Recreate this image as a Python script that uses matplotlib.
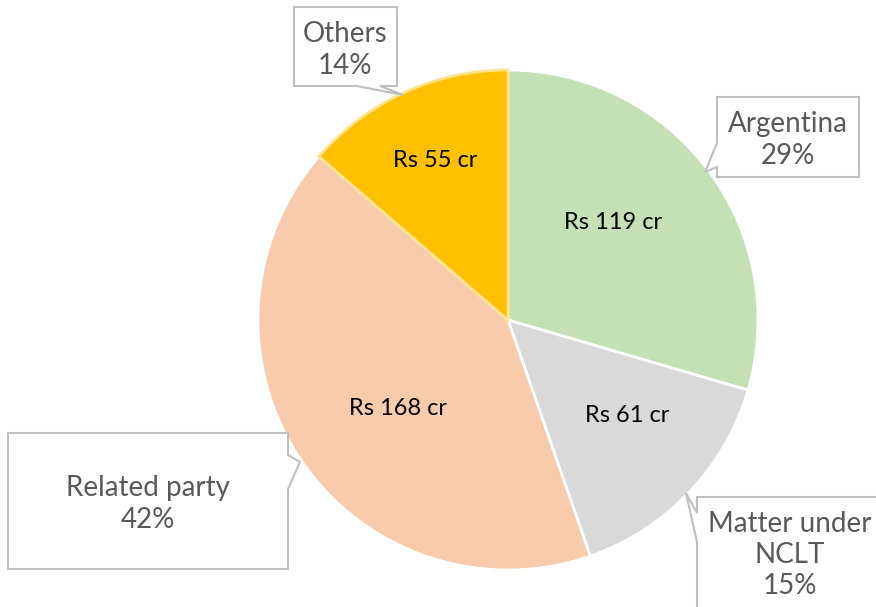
import numpy as np
import matplotlib.pyplot as plt
from matplotlib.patches import Polygon

# --- data ---
categories = ['Argentina', 'Matter under\nNCLT', 'Related party', 'Others']
values_cr = [119, 61, 168, 55]
pct_labels = [29, 15, 42, 14]  # as printed on the chart
colors = ['#C5E0B4', '#D9D9D9', '#F8CBAD', '#FFC000']
edge_colors = ['white', 'white', 'white', '#FFE38C']

W, H = 876, 607
plt.rcParams['font.family'] = ['Lato', 'DejaVu Sans']

fig = plt.figure(figsize=(W / 100, H / 100), dpi=100)
ax = fig.add_axes([0, 0, 1, 1])


def Y(y):
    # image pixel row -> axes y
    return H - y


cx, cy, R = 508, 320, 250
wedges, _ = ax.pie(values_cr, colors=colors, startangle=90, counterclock=False,
                   center=(cx, Y(cy)), radius=R, frame=True,
                   wedgeprops=dict(linewidth=2))
for w, ec in zip(wedges, edge_colors):
    w.set_edgecolor(ec)
ax.set_xlim(0, W)
ax.set_ylim(0, H)
ax.set_aspect('equal')
ax.axis('off')

# value labels inside the slices (radius fraction, angle nudge in degrees)
label_pos = [(0.575, 6), (0.61, 5), (0.565, 4.5), (0.70, 0)]
for w, v, (d, da) in zip(wedges, values_cr, label_pos):
    ang = np.deg2rad((w.theta1 + w.theta2) / 2 + da)
    ax.text(cx + d * R * np.cos(ang), Y(cy) + d * R * np.sin(ang), f'Rs {v} cr',
            ha='center', va='center', fontsize=17, color='black')


def callout(pts, text, tx, ty):
    poly = Polygon([(x, Y(y)) for x, y in pts], closed=True, facecolor='white',
                   edgecolor='#BFBFBF', linewidth=1.5, zorder=5)
    ax.add_patch(poly)
    ax.text(tx, Y(ty), text, ha='center', va='center', fontsize=20,
            color='#595959', linespacing=1.25, zorder=6)


# Argentina
callout([(717, 97), (859, 97), (859, 177), (717, 177), (717, 167), (705, 172), (717, 143)],
        f'{categories[0]}\n{pct_labels[0]}%', 788, 140)
# Matter under NCLT (runs off the canvas)
callout([(697, 497), (890, 497), (890, 620), (697, 620), (697, 542), (686, 493), (697, 513)],
        f'{categories[1]}\n{pct_labels[1]}%', 790, 555)
# Related party
callout([(8, 433), (288, 433), (288, 455), (300, 462), (288, 489), (288, 569), (8, 569)],
        f'{categories[2]}\n{pct_labels[2]}%', 148, 504)
# Others
callout([(294, 7), (397, 7), (397, 86), (380, 86), (403, 95), (357, 86), (294, 86)],
        f'{categories[3]}\n{pct_labels[3]}%', 345, 50)

fig.savefig('out.png', dpi=100)
